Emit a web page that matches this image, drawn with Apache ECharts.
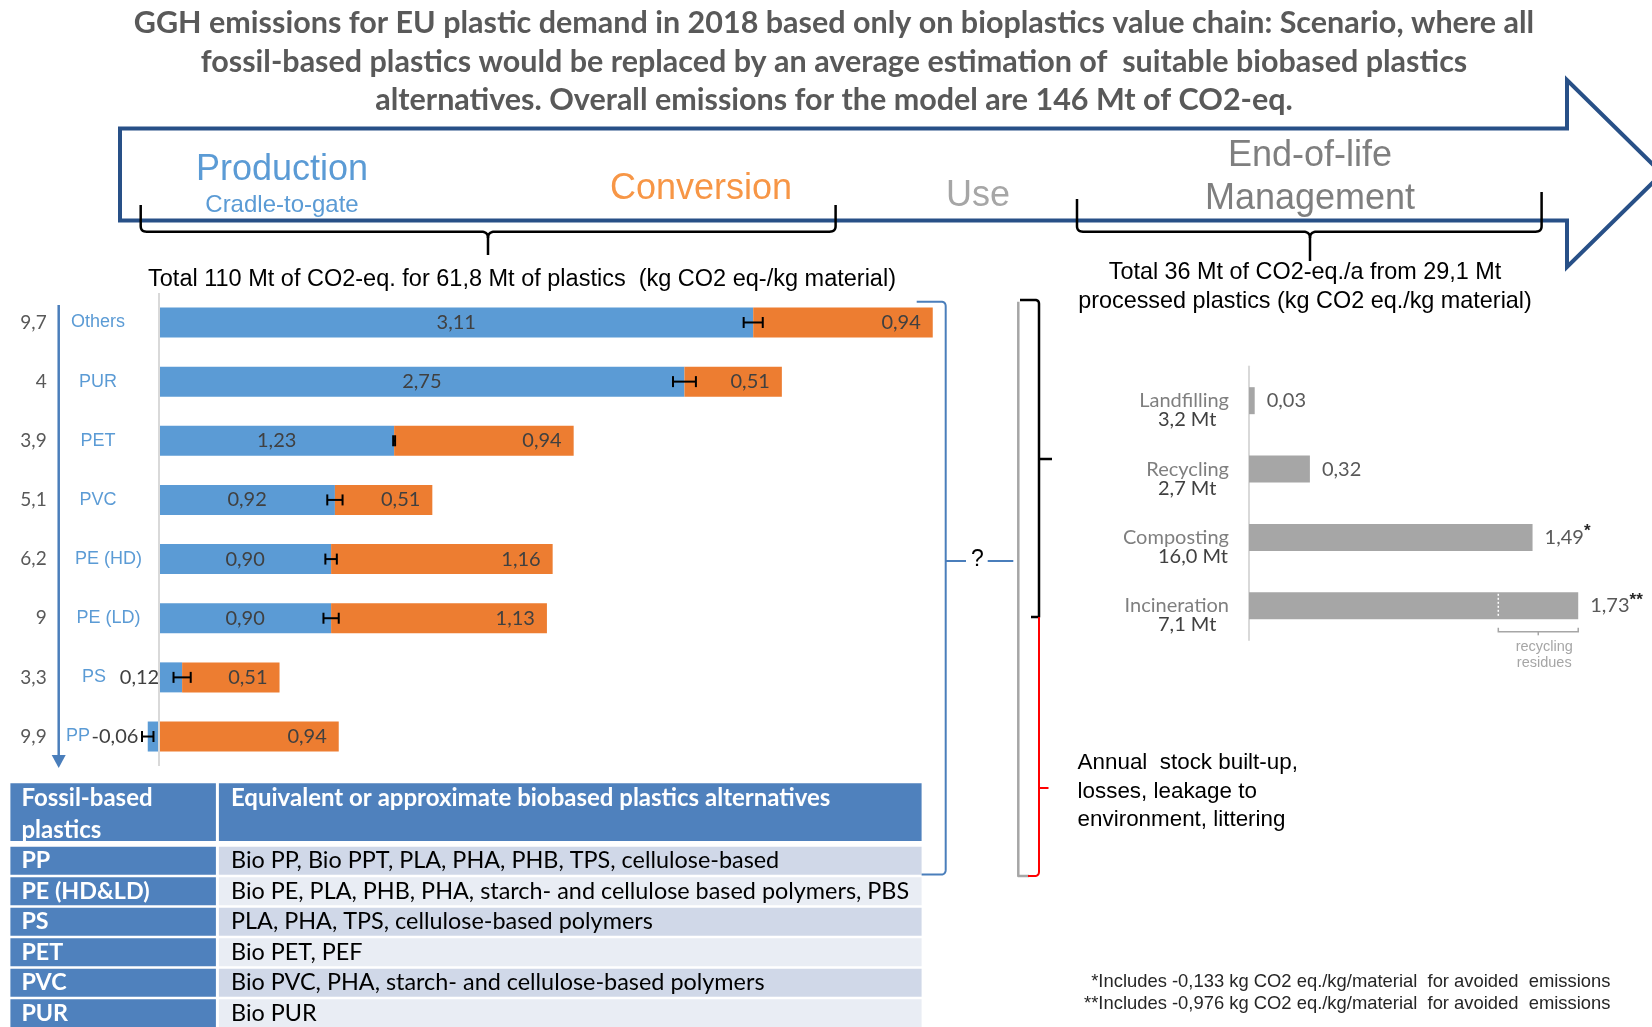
<!DOCTYPE html>
<html>
<head>
<meta charset="utf-8">
<title>GHG emissions – bioplastics value chain</title>
<script src="https://cdn.jsdelivr.net/npm/echarts@6/dist/echarts.min.js"></script>
<style>
  html, body { margin: 0; padding: 0; background: #ffffff; }
  #chart { width: 1652px; height: 1027px; }
</style>
</head>
<body>
<div id="chart"></div>
<script>
// ---- headline ----
const titleLines = [
  'GGH emissions for EU plastic demand in 2018 based only on bioplastics value chain: Scenario, where all',
  'fossil-based plastics would be replaced by an average estimation of  suitable biobased plastics',
  'alternatives. Overall emissions for the model are 146 Mt of CO2-eq.'
];

// ---- production + conversion (kg CO2 eq./kg material) ----
const categories = ['Others', 'PUR', 'PET', 'PVC', 'PE (HD)', 'PE (LD)', 'PS', 'PP'];
const massMt = ['9,7', '4', '3,9', '5,1', '6,2', '9', '3,3', '9,9'];
const production = [3.11, 2.75, 1.23, 0.92, 0.90, 0.90, 0.12, -0.06];
const conversion = [0.94, 0.51, 0.94, 0.51, 1.16, 1.13, 0.51, 0.94];
const productionError = [0.05, 0.06, 0.005, 0.04, 0.03, 0.04, 0.045, 0.03];
const leftSubtitle = 'Total 110 Mt of CO2-eq. for 61,8 Mt of plastics  (kg CO2 eq-/kg material)';

// ---- end-of-life (kg CO2 eq./kg material) ----
const eolRoutes = ['Landfilling', 'Recycling', 'Composting', 'Incineration'];
const eolMass = ['3,2 Mt', '2,7 Mt', '16,0 Mt', '7,1 Mt'];
const eolEmission = [0.03, 0.32, 1.49, 1.73];
const eolNote = ['', '', '*', '**'];
const incinerationResidueFrom = 1.31;   // share of incineration caused by recycling residues starts here
const rightSubtitle = ['Total 36 Mt of CO2-eq./a from 29,1 Mt', 'processed plastics (kg CO2 eq./kg material)'];
const stockText = ['Annual  stock built-up,', 'losses, leakage to', 'environment, littering'];
const footnotes = [
  '*Includes -0,133 kg CO2 eq./kg/material  for avoided  emissions',
  '**Includes -0,976 kg CO2 eq./kg/material  for avoided  emissions'
];

// ---- substitution table ----
const tableHeader = [['Fossil-based', 'plastics'], ['Equivalent or approximate biobased plastics alternatives']];
const fossilPlastics = ['PP', 'PE (HD&LD)', 'PS', 'PET', 'PVC', 'PUR'];
const bioAlternatives = [
  'Bio PP, Bio PPT, PLA, PHA, PHB, TPS, cellulose-based',
  'Bio PE, PLA, PHB, PHA, starch- and cellulose based polymers, PBS',
  'PLA, PHA, TPS, cellulose-based polymers',
  'Bio PET, PEF',
  'Bio PVC, PHA, starch- and cellulose-based polymers',
  'Bio PUR'
];

const fmt = v => v.toFixed(2).replace('.', ',');
const ARIAL = '"Liberation Sans", Arial, sans-serif';
const CALIBRI = 'Lato, "Open Sans", sans-serif';

const measureCtx = document.createElement('canvas').getContext('2d');
function textWidth(t, font) { measureCtx.font = font; return measureCtx.measureText(t).width; }

const chart = echarts.init(document.getElementById('chart'), null, { renderer: 'canvas' });

// ---------- decorative graphics ----------
function txt(text, x, y, font, fill, align, vAlign) {
  return { type: 'text', x, y, silent: true, z: 10,
    style: { text, font, fill, align: align || 'center', verticalAlign: vAlign || 'middle' } };
}

// Turns a small "M/L/Q" outline into polylines (curves sampled) for the graphic component.
function outline(d, stroke, lw) {
  const tok = d.trim().split(/\s+/);
  const lines = [];
  let cur = null, px = 0, py = 0, i = 0;
  while (i < tok.length) {
    const cmd = tok[i++];
    if (cmd === 'M') {
      px = +tok[i++]; py = +tok[i++];
      cur = [[px, py]]; lines.push(cur);
    } else if (cmd === 'L') {
      px = +tok[i++]; py = +tok[i++];
      cur.push([px, py]);
    } else if (cmd === 'Q') {
      const cx = +tok[i++], cy = +tok[i++], ex = +tok[i++], ey = +tok[i++];
      for (let k = 1; k <= 8; k++) {
        const t = k / 8, u = 1 - t;
        cur.push([u * u * px + 2 * u * t * cx + t * t * ex, u * u * py + 2 * u * t * cy + t * t * ey]);
      }
      px = ex; py = ey;
    }
  }
  return lines.map(pts => ({ type: 'polyline', silent: true, z: 5, shape: { points: pts },
    style: { fill: null, stroke, lineWidth: lw, lineJoin: 'round' } }));
}

const graphics = [];
// headline
titleLines.forEach((t, i) => graphics.push(txt(t, 834, 23 + i * 38.8, 'bold 30.5px ' + CALIBRI, '#595959')));

// value-chain arrow
graphics.push({ type: 'polygon', silent: true, z: 4,
  shape: { points: [[120, 128.5], [1567, 128.5], [1567, 80], [1662, 173.5], [1567, 267], [1567, 220.5], [120, 220.5]] },
  style: { fill: null, stroke: '#285087', lineWidth: 4, lineJoin: 'miter' } });

graphics.push(txt('Production', 282, 170, '36px ' + ARIAL, '#5B9BD5'));
graphics.push(txt('Cradle-to-gate', 282, 205, '24px ' + ARIAL, '#5B9BD5'));
graphics.push(txt('Conversion', 701, 189, '36px ' + ARIAL, '#F79646'));
graphics.push(txt('Use', 978, 196, '36px ' + ARIAL, '#A6A6A6'));
graphics.push(txt('End-of-life', 1310, 156, '36px ' + ARIAL, '#7F7F7F'));
graphics.push(txt('Management', 1310, 199, '36px ' + ARIAL, '#7F7F7F'));

// curly braces under the arrow
graphics.push(...outline('M 140.7 205 L 140.7 226 Q 140.7 231.7 146.5 231.7 L 481 231.7 Q 488 231.7 488 238 L 488 255 M 488 238 Q 488 231.7 495 231.7 L 829.5 231.7 Q 835.6 231.7 835.6 226 L 835.6 205', '#000', 2.5));
graphics.push(...outline('M 1077 199 L 1077 226 Q 1077 231.7 1083 231.7 L 1303 231.7 Q 1310 231.7 1310 238 L 1310 261 M 1310 238 Q 1310 231.7 1317 231.7 L 1535.6 231.7 Q 1541.6 231.7 1541.6 226 L 1541.6 192', '#000', 2.5));

// subtitles
graphics.push(txt(leftSubtitle, 522, 280, '23.5px ' + ARIAL, '#000'));
rightSubtitle.forEach((t, i) => graphics.push(txt(t, 1305, 273 + i * 28.7, '23.4px ' + ARIAL, '#000')));

// mass flow arrow on the left
graphics.push(...outline('M 58.7 305 L 58.7 757', '#4A7EBB', 2.5));
graphics.push({ type: 'polygon', silent: true, z: 5, shape: { points: [[51.7, 755], [65.7, 755], [58.7, 768]] }, style: { fill: '#4A7EBB' } });

// bracket linking production/conversion to end-of-life
graphics.push(...outline('M 916.7 301.7 L 941 301.7 Q 945.7 301.7 945.7 306.5 L 945.7 869.5 Q 945.7 874.5 941 874.5 L 921.6 874.5', '#4A7EBB', 2));
graphics.push(...outline('M 945.7 561 L 966 561 M 987.7 561 L 1013.3 561', '#4A7EBB', 2));
graphics.push(txt('?', 977.5, 560, '23px ' + ARIAL, '#000'));

// end-of-life / stock split
graphics.push(...outline('M 1018.3 301.7 L 1018.3 876 L 1029 876', '#A6A6A6', 2.5));
graphics.push(...outline('M 1020 300 L 1035 300 Q 1039 300 1039 304 L 1039 617 L 1031 617 M 1039 459 L 1052 459', '#000', 2.5));
graphics.push(...outline('M 1039 617 L 1039 871.5 Q 1039 876 1034.5 876 L 1028 876 M 1039 788 L 1048.5 788', '#FF0000', 2));
stockText.forEach((t, i) => graphics.push(txt(t, 1077.6, 763 + i * 28.5, '22.4px ' + ARIAL, '#000', 'left')));

// footnotes
footnotes.forEach((t, i) => graphics.push(txt(t, 1610.5, 982 + i * 22.3, '18.4px ' + ARIAL, '#262626', 'right')));

// substitution table
const tblX = 10.4, splitX = 217.4, tblR = 921.6;
const headTop = 783.3, headH = 57.7, rowTop = 846.8, rowPitch = 30.5, rowH = 28;
graphics.push({ type: 'rect', silent: true, z: 3, shape: { x: tblX, y: headTop, width: splitX - tblX - 1.5, height: headH }, style: { fill: '#4F81BD' } });
graphics.push({ type: 'rect', silent: true, z: 3, shape: { x: splitX + 1.5, y: headTop, width: tblR - splitX - 1.5, height: headH }, style: { fill: '#4F81BD' } });
tableHeader[0].forEach((t, i) => graphics.push(txt(t, 21.4, 798 + i * 32, 'bold 24px ' + CALIBRI, '#FFFFFF', 'left')));
tableHeader[1].forEach((t, i) => graphics.push(txt(t, 231, 798 + i * 32, 'bold 24px ' + CALIBRI, '#FFFFFF', 'left')));
fossilPlastics.forEach((name, i) => {
  const y = rowTop + i * rowPitch;
  graphics.push({ type: 'rect', silent: true, z: 3, shape: { x: tblX, y, width: splitX - tblX - 1.5, height: rowH }, style: { fill: '#4F81BD' } });
  graphics.push({ type: 'rect', silent: true, z: 3, shape: { x: splitX + 1.5, y, width: tblR - splitX - 1.5, height: rowH }, style: { fill: i % 2 === 0 ? '#D0D8E8' : '#E9EDF4' } });
  graphics.push(txt(name, 21.4, y + rowH / 2, 'bold 23.3px ' + CALIBRI, '#FFFFFF', 'left'));
  graphics.push(txt(bioAlternatives[i], 231, y + rowH / 2, '23.4px ' + CALIBRI, '#000000', 'left'));
});

// ---------- chart series ----------
// left panel: value 0 sits at x = 159.2, 191 px per kg CO2 eq./kg
const leftMin = -0.075, leftMax = 4.5, leftPx = 191, leftZeroX = 159.2;
const leftGridLeft = leftZeroX + leftMin * leftPx;

const productionData = production.map((v, i) => {
  if (Math.abs(v) < 0.2) {
    return { value: v, label: { position: 'left', distance: v < 0 ? 9.4 : 0 } };
  }
  return v;
});

const errorData = production.map((v, i) => [v, productionError[i], i]);

function renderError(params, api) {
  const v = api.value(0), e = api.value(1), c = api.value(2);
  const a = api.coord([v - e, c]);
  const b = api.coord([v + e, c]);
  const h = 5.5;
  const st = { stroke: '#000', lineWidth: 2 };
  return { type: 'group', children: [
    { type: 'line', shape: { x1: a[0], y1: a[1], x2: b[0], y2: b[1] }, style: st },
    { type: 'line', shape: { x1: a[0], y1: a[1] - h, x2: a[0], y2: a[1] + h }, style: st },
    { type: 'line', shape: { x1: b[0], y1: b[1] - h, x2: b[0], y2: b[1] + h }, style: st }
  ] };
}

function renderResidue(params, api) {
  const c = api.value(2);
  const a = api.coord([api.value(0), c]);
  const b = api.coord([api.value(1), c]);
  const y0 = a[1] + 26;
  const mid = (a[0] + b[0]) / 2;
  const grey = '#A6A6A6';
  return { type: 'group', children: [
    { type: 'line', shape: { x1: a[0], y1: a[1] - 12, x2: a[0], y2: a[1] + 12 },
      style: { stroke: '#FFFFFF', lineWidth: 1.5, lineDash: [2, 2] } },
    { type: 'polyline', shape: { points: [[a[0], y0 - 4], [a[0], y0], [b[0], y0], [b[0], y0 - 4]] },
      style: { stroke: grey, lineWidth: 1.5, fill: null } },
    { type: 'line', shape: { x1: mid, y1: y0, x2: mid, y2: y0 + 3.5 }, style: { stroke: grey, lineWidth: 1.5 } },
    { type: 'text', x: mid + 6, y: y0 + 15, style: { text: 'recycling', font: '14.5px ' + ARIAL, fill: grey, align: 'center', verticalAlign: 'middle' } },
    { type: 'text', x: mid + 6, y: y0 + 31, style: { text: 'residues', font: '14.5px ' + ARIAL, fill: grey, align: 'center', verticalAlign: 'middle' } }
  ] };
}

// end-of-life labels: route name right-aligned, mass left-aligned 71 px before the anchor
const eolFont = 20;
const eolRich = {
  r: { color: '#7F7F7F', fontFamily: CALIBRI, fontSize: eolFont, lineHeight: 19 }
};
eolMass.forEach((m, i) => {
  const w = textWidth(m, eolFont + 'px ' + CALIBRI);
  eolRich['m' + i] = { color: '#404040', fontFamily: CALIBRI, fontSize: eolFont, lineHeight: 19,
    align: 'right', padding: [0, Math.max(0, 71 - w), 0, 0] };
});

// polymer names sit centred in the column between the mass figures and the bars
const catBlue = { color: '#5B9BD5', fontFamily: ARIAL, fontSize: 18 };
const catRich = {
  d: Object.assign({}, catBlue),
  pe: Object.assign({ padding: [0, 0, 0, 21] }, catBlue),
  ps: Object.assign({ padding: [0, 8, 0, 0] }, catBlue),
  pp: Object.assign({ padding: [0, 40, 0, 0] }, catBlue)
};
function catLabel(v) {
  if (v === 'PP') return '{pp|' + v + '}';
  if (v === 'PS') return '{ps|' + v + '}';
  if (v.indexOf('PE (') === 0) return '{pe|' + v + '}';
  return '{d|' + v + '}';
}

const option = {
  animation: false,
  backgroundColor: '#FFFFFF',
  graphic: graphics,
  grid: [
    { left: leftGridLeft, top: 292.9, width: (leftMax - leftMin) * leftPx, height: 473.2, containLabel: false, outerBoundsMode: 'none' },
    { left: 1249, top: 366.5, width: 380.6, height: 273.5, containLabel: false, outerBoundsMode: 'none' }
  ],
  xAxis: [
    { type: 'value', gridIndex: 0, min: leftMin, max: leftMax, show: false },
    { type: 'value', gridIndex: 1, min: 0, max: 2, show: false }
  ],
  yAxis: [
    { type: 'category', gridIndex: 0, inverse: true, data: categories, position: 'left',
      axisLine: { show: false, onZero: false }, axisTick: { show: false }, splitLine: { show: false },
      axisLabel: { interval: 0, margin: leftGridLeft - 98, align: 'center', formatter: catLabel, rich: catRich } },
    { type: 'category', gridIndex: 0, inverse: true, position: 'left', data: massMt,
      axisLine: { show: false, onZero: false }, axisTick: { show: false }, splitLine: { show: false },
      axisLabel: { interval: 0, margin: leftGridLeft - 46.7, align: 'right', color: '#595959', fontFamily: CALIBRI, fontSize: 19 } },
    { type: 'category', gridIndex: 1, inverse: true, data: eolRoutes,
      axisLine: { show: true, onZero: false, lineStyle: { color: '#D9D9D9', width: 2 } },
      axisTick: { show: false }, splitLine: { show: false },
      axisLabel: { interval: 0, margin: 20, align: 'right', padding: [19, 0, 0, 0],
        formatter: (v, i) => '{r|' + v + '}\n{m' + i + '|' + eolMass[i] + '}',
        rich: eolRich } }
  ],
  series: [
    { name: 'Production', type: 'bar', xAxisIndex: 0, yAxisIndex: 0, stack: 'kg',
      data: productionData, barWidth: 30, itemStyle: { color: '#5B9BD5' },
      label: { show: true, position: 'inside', formatter: p => fmt(p.value),
        color: '#404040', fontFamily: CALIBRI, fontSize: 20 },
      markLine: { silent: true, symbol: ['none', 'none'], label: { show: false },
        lineStyle: { color: '#D9D9D9', width: 2, type: 'solid' }, data: [{ xAxis: 0 }] } },
    { name: 'Conversion', type: 'bar', xAxisIndex: 0, yAxisIndex: 0, stack: 'kg',
      data: conversion, barWidth: 30, itemStyle: { color: '#ED7D31' },
      label: { show: true, position: 'insideRight', distance: 12, formatter: p => fmt(p.value),
        color: '#404040', fontFamily: CALIBRI, fontSize: 20 } },
    { name: 'Production uncertainty', type: 'custom', xAxisIndex: 0, yAxisIndex: 0, z: 4,
      data: errorData, encode: { x: 0, y: 2 }, renderItem: renderError },
    { name: 'End-of-life', type: 'bar', xAxisIndex: 1, yAxisIndex: 2,
      data: eolEmission, barWidth: 27, itemStyle: { color: '#A6A6A6' },
      label: { show: true, position: 'right', distance: 12,
        formatter: p => '{v|' + fmt(p.value) + '}' + (eolNote[p.dataIndex] ? '{s|' + eolNote[p.dataIndex] + '}' : ''),
        rich: {
          v: { color: '#595959', fontFamily: CALIBRI, fontSize: 20 },
          s: { color: '#262626', fontFamily: ARIAL, fontSize: 17, fontWeight: 'bold', padding: [0, 0, 12, 0] }
        } } },
    { name: 'Recycling residues', type: 'custom', xAxisIndex: 1, yAxisIndex: 2, z: 4,
      data: [[incinerationResidueFrom, eolEmission[3], 3]], encode: { x: [0, 1], y: 2 }, renderItem: renderResidue }
  ]
};

chart.setOption(option);
</script>
</body>
</html>
